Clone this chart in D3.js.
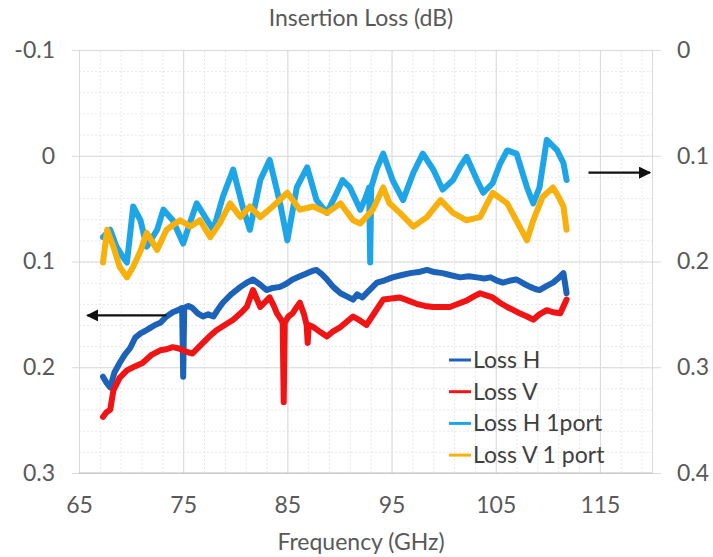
<!DOCTYPE html>
<html><head><meta charset="utf-8">
<script src="https://cdn.jsdelivr.net/npm/d3@7"></script>
<style>
html,body{margin:0;padding:0;background:#fff;}
text{font-family:Lato,"Open Sans",sans-serif;}
</style></head>
<body><svg id="c" width="713" height="557"></svg>
<script>
// ---- data ----
const title = "Insertion Loss (dB)";
const xTitle = "Frequency (GHz)";
const seriesNames = ["Loss H", "Loss V", "Loss H 1port", "Loss V 1 port"];
const seriesColors = ["#1c62b8", "#f01414", "#1ea5e8", "#f8b00c"];
const xTicks = [65, 75, 85, 95, 105, 115];
const leftTicks = [-0.1, 0, 0.1, 0.2, 0.3];
const leftLabels = ["-0.1", "0", "0.1", "0.2", "0.3"];
const rightTicks = [0, 0.1, 0.2, 0.3, 0.4];
const rightLabels = ["0", "0.1", "0.2", "0.3", "0.4"];

// primary axis (left)
const lossH = [[67.3,0.209],[67.6,0.214],[68.0,0.219],[68.4,0.205],[68.9,0.196],[69.4,0.188],[69.9,0.182],[70.4,0.172],[70.9,0.168],[71.3,0.166],[71.8,0.163],[72.3,0.160],[72.8,0.158],[73.4,0.152],[74.0,0.148],[74.5,0.146],[74.9,0.144],[75.0,0.209],[75.1,0.144],[75.5,0.142],[75.9,0.144],[76.4,0.149],[76.9,0.152],[77.4,0.150],[77.9,0.152],[78.3,0.146],[78.8,0.139],[79.6,0.131],[80.5,0.124],[81.1,0.120],[81.7,0.117],[82.4,0.122],[83.0,0.127],[83.6,0.125],[84.3,0.124],[84.9,0.121],[85.5,0.117],[86.2,0.114],[86.9,0.111],[87.4,0.109],[87.8,0.108],[88.3,0.112],[88.8,0.117],[89.4,0.124],[90.1,0.130],[90.7,0.133],[91.3,0.136],[91.7,0.131],[92.2,0.134],[92.6,0.130],[93.1,0.125],[93.6,0.120],[94.3,0.118],[95.1,0.115],[95.9,0.113],[96.8,0.111],[97.6,0.110],[98.4,0.108],[99.1,0.110],[99.9,0.111],[100.7,0.113],[101.6,0.115],[102.4,0.114],[103.2,0.115],[103.9,0.116],[104.5,0.115],[105.1,0.118],[105.7,0.120],[106.4,0.118],[107.0,0.117],[107.7,0.121],[108.3,0.124],[108.8,0.126],[109.2,0.127],[109.9,0.123],[110.5,0.120],[111.0,0.116],[111.5,0.111],[111.8,0.130]];

const lossV = [[67.3,0.247],[67.6,0.243],[68.0,0.240],[68.3,0.222],[68.9,0.210],[69.6,0.203],[70.4,0.199],[71.1,0.196],[72.0,0.188],[72.8,0.184],[73.4,0.183],[74.0,0.181],[74.5,0.182],[75.0,0.184],[75.5,0.186],[75.9,0.187],[76.4,0.182],[76.9,0.177],[77.5,0.171],[78.2,0.165],[79.0,0.160],[79.8,0.155],[80.5,0.149],[81.1,0.143],[81.7,0.127],[82.4,0.143],[82.9,0.138],[83.3,0.134],[83.7,0.142],[84.0,0.149],[84.4,0.155],[84.55,0.158],[84.65,0.233],[84.75,0.158],[85.1,0.152],[85.5,0.149],[85.9,0.143],[86.2,0.139],[86.6,0.150],[86.85,0.160],[86.95,0.177],[87.05,0.160],[87.5,0.162],[88.2,0.167],[88.8,0.171],[89.4,0.166],[90.1,0.162],[90.7,0.157],[91.3,0.152],[92.0,0.156],[92.6,0.160],[93.4,0.148],[94.2,0.136],[95.0,0.135],[95.8,0.134],[96.6,0.137],[97.4,0.140],[98.2,0.142],[99.0,0.143],[99.8,0.143],[100.6,0.143],[101.4,0.140],[102.2,0.137],[102.9,0.133],[103.5,0.130],[104.1,0.132],[104.7,0.134],[105.4,0.139],[106.1,0.143],[106.7,0.146],[107.3,0.149],[108.0,0.152],[108.6,0.155],[109.2,0.150],[109.9,0.146],[110.5,0.148],[111.2,0.149],[111.8,0.136]];

// secondary axis (right)
const lossH1 = [[67.3,0.177],[68.0,0.170],[68.6,0.186],[69.1,0.194],[69.6,0.201],[70.2,0.148],[70.9,0.161],[71.5,0.186],[72.0,0.178],[72.5,0.170],[73.1,0.151],[74.0,0.161],[75.0,0.183],[75.7,0.162],[76.3,0.145],[77.3,0.161],[77.9,0.170],[78.8,0.139],[79.8,0.113],[80.7,0.148],[81.4,0.170],[82.4,0.123],[83.3,0.104],[84.3,0.145],[85.0,0.180],[85.9,0.130],[86.9,0.111],[87.8,0.142],[88.8,0.154],[89.6,0.138],[90.3,0.123],[91.0,0.130],[92.0,0.151],[92.5,0.140],[92.85,0.130],[92.95,0.201],[93.05,0.130],[93.6,0.112],[94.2,0.098],[95.1,0.123],[96.1,0.142],[97.1,0.116],[98.0,0.098],[99.0,0.113],[99.9,0.132],[100.9,0.123],[101.6,0.110],[102.2,0.101],[103.2,0.123],[103.8,0.135],[104.7,0.126],[105.4,0.108],[106.1,0.095],[107.0,0.098],[108.0,0.130],[108.6,0.145],[109.2,0.130],[109.9,0.085],[110.4,0.090],[110.9,0.095],[111.5,0.107],[111.8,0.123]];

const lossV1 = [[67.3,0.201],[67.7,0.170],[68.3,0.186],[68.9,0.205],[69.6,0.215],[70.2,0.205],[70.9,0.190],[71.5,0.173],[72.5,0.189],[73.4,0.170],[74.1,0.165],[74.7,0.161],[75.7,0.167],[76.6,0.161],[77.6,0.177],[78.5,0.164],[79.5,0.145],[80.5,0.158],[81.4,0.148],[82.4,0.158],[83.6,0.148],[85.0,0.135],[85.6,0.143],[86.2,0.151],[87.5,0.148],[88.8,0.154],[90.1,0.145],[91.3,0.161],[92.0,0.164],[93.2,0.151],[94.2,0.130],[94.8,0.145],[95.8,0.154],[97.1,0.167],[98.4,0.158],[99.7,0.142],[100.9,0.154],[102.2,0.161],[103.5,0.158],[104.7,0.135],[106.1,0.145],[107.3,0.167],[108.0,0.180],[108.6,0.161],[109.5,0.139],[110.5,0.130],[111.1,0.140],[111.5,0.148],[111.8,0.170]];

// ---- layout ----
const m = {left: 79, right: 652, top: 50, bottom: 473};
const svg = d3.select("#c");

const x = d3.scaleLinear().domain([65, 120]).range([m.left, m.right]);
const yL = d3.scaleLinear().domain([-0.1, 0.3]).range([m.top, m.bottom]);
const yR = d3.scaleLinear().domain([0, 0.4]).range([m.top, m.bottom]);

const pw = m.right - m.left, ph = m.bottom - m.top;

// minor gridlines
const xMinor = d3.range(65, 120.001, 2);
const yMinor = d3.range(-0.1, 0.3001, 0.02);
const gMinor = svg.append("g");
gMinor.append("g").attr("transform", `translate(0,${m.bottom})`)
  .call(d3.axisBottom(x).tickValues(xMinor).tickSize(-ph).tickFormat(""))
  .call(g => g.select(".domain").remove())
  .call(g => g.selectAll("line").attr("stroke", "#e8e8e8").attr("stroke-dasharray", "2,2"));
gMinor.append("g").attr("transform", `translate(${m.left},0)`)
  .call(d3.axisLeft(yL).tickValues(yMinor).tickSize(-pw).tickFormat(""))
  .call(g => g.select(".domain").remove())
  .call(g => g.selectAll("line").attr("stroke", "#e8e8e8").attr("stroke-dasharray", "2,2"));

// major gridlines
const gMajor = svg.append("g");
gMajor.append("g").attr("transform", `translate(0,${m.bottom})`)
  .call(d3.axisBottom(x).tickValues([65,75,85,95,105,115,120]).tickSize(-ph).tickFormat(""))
  .call(g => g.select(".domain").remove())
  .call(g => g.selectAll("line").attr("stroke", "#d9d9d9"));
gMajor.append("g").attr("transform", `translate(${m.left},0)`)
  .call(d3.axisLeft(yL).tickValues(leftTicks).tickSize(-pw).tickFormat(""))
  .call(g => g.select(".domain").remove())
  .call(g => g.selectAll("line").attr("stroke", "#d9d9d9"));

// axis tick marks and labels
const gl = svg.append("g").attr("transform", `translate(${m.left},0)`)
  .call(d3.axisLeft(yL).tickValues(leftTicks).tickSize(7).tickPadding(17).tickFormat((d, i) => leftLabels[i]));
const gr = svg.append("g").attr("transform", `translate(${m.right},0)`)
  .call(d3.axisRight(yR).tickValues(rightTicks).tickSize(9).tickPadding(16).tickFormat((d, i) => rightLabels[i]));
const gb = svg.append("g").attr("transform", `translate(0,${m.bottom})`)
  .call(d3.axisBottom(x).tickValues(xTicks).tickSize(0).tickPadding(24).tickFormat(d3.format("d")));
[gl, gr, gb].forEach(g => {
  g.select(".domain").remove();
  g.selectAll("line").attr("stroke", "#d9d9d9");
  g.selectAll("text").attr("fill", "#595959").style("font-size", "23px");
});
svg.append("line").attr("x1", m.left).attr("x2", m.right).attr("y1", m.bottom).attr("y2", m.bottom)
  .attr("stroke", "#bfbfbf").attr("stroke-width", 1.2);

// series
const lineL = d3.line().x(d => x(d[0])).y(d => yL(d[1]));
const lineR = d3.line().x(d => x(d[0])).y(d => yR(d[1]));
const seriesData = [lossH, lossV, lossH1, lossV1];
const seriesAxis = [lineL, lineL, lineR, lineR];
seriesData.forEach((s, i) => {
  svg.append("path").datum(s).attr("d", seriesAxis[i])
    .attr("fill", "none").attr("stroke", seriesColors[i])
    .attr("stroke-width", 6).attr("stroke-linejoin", "round").attr("stroke-linecap", "round");
});

// arrows
const defs = svg.append("defs");
defs.append("marker").attr("id", "ah").attr("viewBox", "0 0 10 10").attr("refX", 9).attr("refY", 5)
  .attr("markerWidth", 5.5).attr("markerHeight", 5.5).attr("orient", "auto")
  .append("path").attr("d", "M0,0L10,5L0,10Z").attr("fill", "#111");
svg.append("line").attr("x1", x(73.4)).attr("x2", x(65.8)).attr("y1", yL(0.151)).attr("y2", yL(0.151))
  .attr("stroke", "#111").attr("stroke-width", 2.2).attr("marker-end", "url(#ah)");
svg.append("line").attr("x1", x(113.9)).attr("x2", x(119.8)).attr("y1", yR(0.116)).attr("y2", yR(0.116))
  .attr("stroke", "#111").attr("stroke-width", 2.2).attr("marker-end", "url(#ah)");

// legend
const leg = svg.append("g");
seriesNames.forEach((n, i) => {
  const yy = 360 + i * 31.7;
  leg.append("line").attr("x1", 449).attr("x2", 471).attr("y1", yy).attr("y2", yy)
    .attr("stroke", seriesColors[i]).attr("stroke-width", 3);
  leg.append("text").attr("x", 473).attr("y", yy).attr("dy", "0.35em")
    .attr("fill", "#404040").style("font-size", "23px").text(n);
});

// titles
svg.append("text").attr("x", 361).attr("y", 18).attr("dy", "0.35em").attr("text-anchor", "middle")
  .attr("fill", "#595959").style("font-size", "23px").text(title);
svg.append("text").attr("x", 361).attr("y", 542).attr("dy", "0.35em").attr("text-anchor", "middle")
  .attr("fill", "#595959").style("font-size", "23px").text(xTitle);
</script></body></html>
